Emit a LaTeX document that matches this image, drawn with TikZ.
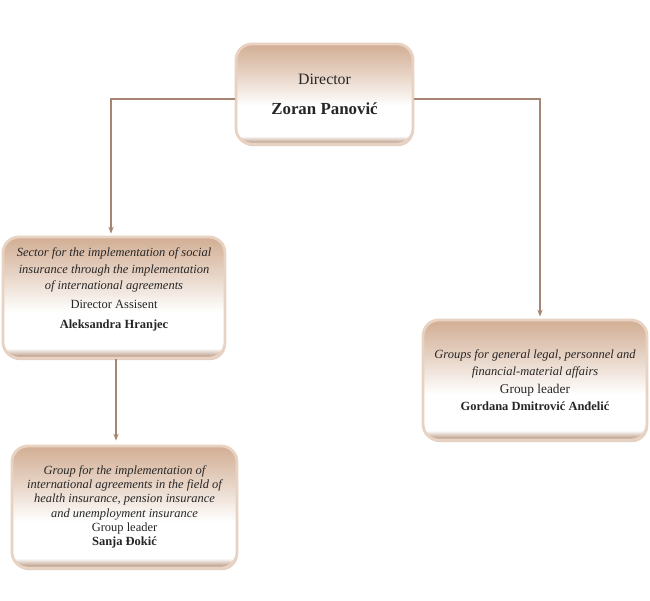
\documentclass[tikz,border=0pt]{standalone}
\usepackage{fontspec}
\setmainfont{Liberation Serif}
\usepackage{tikz}
\usetikzlibrary{positioning, arrows.meta, shadows}
\usepackage{xcolor}
\definecolor{boxtan}{HTML}{D2AE94}
\definecolor{shadebrown}{HTML}{B08A72}
\definecolor{rimtan}{HTML}{E8D2C2}
\definecolor{linebrown}{HTML}{A68572}
\definecolor{darktext}{HTML}{262626}
\pgfdeclareverticalshading{boxshade}{100bp}{%
  color(0bp)=(shadebrown); color(25bp)=(shadebrown);
  color(29bp)=(white); color(44bp)=(white);
  color(60bp)=(boxtan!55); color(75bp)=(boxtan); color(100bp)=(boxtan)}

\begin{document}
\begin{tikzpicture}[
        box/.style={rectangle, draw=rimtan, line width=1.6pt,
          shading=boxshade, rounded corners=9pt, align=center,
          text=darktext, font=\fontsize{7.1}{9.6}\selectfont,
          drop shadow={shadow xshift=0.5pt, shadow yshift=-1.2pt,
            fill=shadebrown!70, opacity=0.6}},
        arr/.style={-{Stealth[length=4pt, width=3pt]}, line width=0.8pt,
          color=linebrown},
      ]
        \useasboundingbox (0,0) rectangle (13,-12);

        \node[box, minimum width=3.54cm, minimum height=2cm,
          font=\fontsize{9}{11}\selectfont] (dir) at (6.49,-1.88)
          {Director\\[6pt]{\fontsize{9.6}{11}\selectfont\textbf{Zoran Panović}}};

        \node[box, minimum width=4.44cm, minimum height=2.42cm] (sec) at (2.28,-5.95)
          {\itshape Sector for the implementation of social\\
           \itshape insurance through the implementation\\
           \itshape of international agreements\\[1pt]
           Director Assisent\\[2pt]
           \textbf{Aleksandra Hranjec}\\[1pt]};

        \node[box, minimum width=4.48cm, minimum height=2.4cm] (grl) at (10.7,-7.6)
          {\itshape Groups for general legal, personnel and\\
           \itshape financial-material affairs\\[1pt]
           {\fontsize{7.6}{8.6}\selectfont Group leader}\\
           \textbf{Gordana Dmitrović Anđelić}};

        \node[box, minimum width=4.5cm, minimum height=2.44cm,
          font=\fontsize{7.1}{8.1}\selectfont] (grp) at (2.49,-10.14)
          {\itshape Group for the implementation of\\
           \itshape international agreements in the field of\\
           \itshape health insurance, pension insurance\\
           \itshape and unemployment insurance\\
           Group leader\\
           \textbf{Sanja Đokić}};

        \draw[arr] ([yshift=-0.1cm]dir.west) -| ([xshift=-0.06cm, yshift=0.04cm]sec.north);
        \draw[arr] ([yshift=-0.1cm]dir.east) -| ([xshift=0.1cm, yshift=0.04cm]grl.north);
        \draw[arr] ([xshift=0.04cm]sec.south) -- ([xshift=0.04cm, yshift=0.08cm]sec.south |- grp.north);
      \end{tikzpicture}
\end{document}
